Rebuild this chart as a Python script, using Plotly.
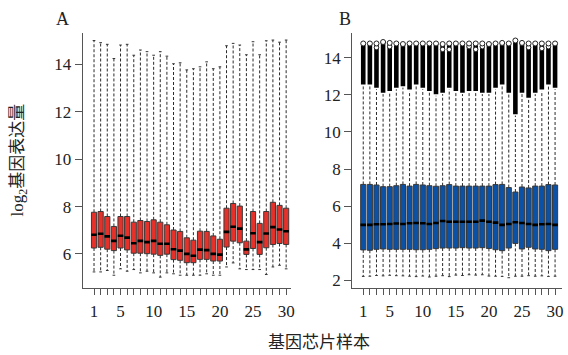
import plotly.graph_objects as go

samples = list(range(1, 31))
x_tick_vals = [1, 5, 10, 15, 20, 25, 30]
x_tick_text = ["1", "5", "10", "15", "20", "25", "30"]
a_y_ticks = [6, 8, 10, 12, 14]
b_y_ticks = [2, 4, 6, 8, 10, 12, 14]

# Panel A (red)
a_q3 = [7.76, 7.79, 7.58, 7.16, 7.58, 7.58, 7.34, 7.41, 7.37, 7.44, 7.34, 7.23, 7.01, 6.95, 6.68,
        6.58, 6.96, 6.95, 6.76, 6.62, 7.93, 8.13, 8.02, 6.54, 7.79, 7.29, 7.79, 8.18, 8.05, 7.93]
a_med = [6.81, 6.85, 6.74, 6.55, 6.77, 6.69, 6.45, 6.55, 6.50, 6.55, 6.43, 6.43, 6.20, 6.14, 6.00,
         5.92, 6.18, 6.16, 6.00, 5.97, 6.93, 7.15, 7.07, 6.19, 6.87, 6.50, 6.86, 7.13, 7.03, 6.96]
a_q1 = [6.25, 6.28, 6.20, 6.14, 6.25, 6.17, 6.03, 6.03, 6.01, 5.99, 5.94, 5.99, 5.76, 5.73, 5.63,
        5.63, 5.77, 5.77, 5.70, 5.70, 6.29, 6.54, 6.47, 5.98, 6.23, 5.98, 6.26, 6.40, 6.44, 6.40]
a_lo = [5.24, 5.24, 5.30, 5.10, 5.37, 5.27, 5.34, 5.20, 5.27, 5.20, 5.02, 5.20, 5.16, 5.10, 5.10,
        5.10, 5.10, 5.16, 5.10, 5.10, 5.45, 5.62, 5.37, 5.34, 5.34, 5.34, 5.13, 5.45, 5.52, 5.37]
a_hi = [15.01, 14.92, 14.85, 14.25, 14.82, 14.85, 14.39, 14.61, 14.54, 14.39, 14.54, 14.35, 14.03, 14.07, 13.77,
        13.82, 13.90, 14.11, 13.82, 13.90, 14.79, 14.89, 14.82, 14.41, 14.96, 14.41, 15.00, 15.03, 14.94, 15.03]

# Panel B (blue)
b_q3 = [7.17, 7.17, 7.14, 7.05, 7.05, 7.10, 7.17, 7.08, 7.17, 7.14, 7.10, 7.07, 7.10, 7.16, 7.08,
        7.08, 7.08, 7.08, 7.08, 7.08, 7.16, 7.17, 7.00, 6.76, 7.03, 6.98, 7.08, 7.08, 7.16, 7.14]
b_med = [4.99, 4.99, 5.02, 5.02, 5.04, 5.06, 5.04, 5.08, 5.09, 5.08, 5.04, 5.09, 5.20, 5.16, 5.16,
         5.16, 5.16, 5.16, 5.22, 5.16, 5.11, 4.99, 5.04, 5.13, 5.09, 5.04, 4.99, 5.02, 5.04, 4.99]
b_q1 = [3.64, 3.62, 3.67, 3.69, 3.67, 3.67, 3.67, 3.67, 3.65, 3.65, 3.67, 3.71, 3.74, 3.74, 3.74,
        3.76, 3.74, 3.74, 3.76, 3.72, 3.65, 3.60, 3.74, 3.99, 3.69, 3.78, 3.69, 3.67, 3.60, 3.67]
b_lo = [2.21, 2.22, 2.26, 2.24, 2.27, 2.25, 2.24, 2.22, 2.20, 2.23, 2.18, 2.22, 2.25, 2.20, 2.28,
        2.26, 2.30, 2.28, 2.30, 2.23, 2.22, 2.21, 2.14, 2.22, 2.22, 2.25, 2.22, 2.24, 2.21, 2.22]
b_hi = [12.48, 12.48, 12.30, 12.04, 12.13, 12.30, 12.39, 12.21, 12.48, 12.30, 12.13, 11.95, 12.04, 12.30, 12.13,
        12.04, 12.13, 12.13, 12.04, 12.04, 12.30, 12.48, 12.04, 10.88, 12.04, 11.77, 12.04, 12.21, 12.48, 12.30]
b_out_max = [14.77, 14.77, 14.77, 14.85, 14.80, 14.77, 14.74, 14.77, 14.77, 14.77, 14.77, 14.77, 14.74, 14.77, 14.77,
             14.77, 14.77, 14.77, 14.77, 14.74, 14.77, 14.80, 14.77, 14.93, 14.80, 14.77, 14.77, 14.77, 14.77, 14.77]
b_out2_x = [3, 5, 13, 14, 17, 18, 19, 26, 28, 29]
b_out2_y = [14.55, 14.60, 14.45, 14.45, 14.60, 14.45, 14.60, 14.55, 14.50, 14.60]

SERIF = "Liberation Serif, Noto Sans CJK SC, serif"
BOX_W = 0.78
CAP_W = 0.2
MED_W = 0.42

fig = go.Figure()


def add_panel(xa, ya, q1, med, q3, lo, hi, fill, cap_top=True):
    # dashed whiskers
    wx, wy = [], []
    for i, x in enumerate(samples):
        wx += [x, x, None, x, x, None]
        wy += [q3[i], hi[i], None, q1[i], lo[i], None]
    fig.add_trace(go.Scatter(x=wx, y=wy, mode="lines", xaxis=xa, yaxis=ya,
                             line=dict(color="#2a2a2a", width=1, dash="3px,2px"),
                             hoverinfo="skip", showlegend=False))
    # staples
    cx, cy = [], []
    for i, x in enumerate(samples):
        cx += [x - CAP_W, x + CAP_W, None]
        cy += [lo[i], lo[i], None]
        if cap_top:
            cx += [x - CAP_W, x + CAP_W, None]
            cy += [hi[i], hi[i], None]
    fig.add_trace(go.Scatter(x=cx, y=cy, mode="lines", xaxis=xa, yaxis=ya,
                             line=dict(color="#333", width=1),
                             hoverinfo="skip", showlegend=False))
    # boxes
    fig.add_trace(go.Box(x=samples, q1=q1, median=med, q3=q3, lowerfence=q1, upperfence=q3,
                         xaxis=xa, yaxis=ya, width=BOX_W, whiskerwidth=0,
                         fillcolor=fill, line=dict(color="#3a3a3a", width=1),
                         boxpoints=False, hoverinfo="skip", showlegend=False))
    # thick medians
    mx, my = [], []
    for i, x in enumerate(samples):
        mx += [x - MED_W, x + MED_W, None]
        my += [med[i], med[i], None]
    fig.add_trace(go.Scatter(x=mx, y=my, mode="lines", xaxis=xa, yaxis=ya,
                             line=dict(color="#000", width=2.6),
                             hoverinfo="skip", showlegend=False))


add_panel("x", "y", a_q1, a_med, a_q3, a_lo, a_hi, "#e6302a")
add_panel("x2", "y2", b_q1, b_med, b_q3, b_lo, b_hi, "#0b52a6", cap_top=False)

# outlier band in panel B
ox, oy = [], []
for i, x in enumerate(samples):
    ox += [x, x, None]
    oy += [b_hi[i] + 0.08, b_out_max[i], None]
fig.add_trace(go.Scatter(x=ox, y=oy, mode="lines", xaxis="x2", yaxis="y2",
                         line=dict(color="#000", width=4.6),
                         hoverinfo="skip", showlegend=False))
fig.add_trace(go.Scatter(x=b_out2_x, y=b_out2_y, mode="markers", xaxis="x2", yaxis="y2",
                         marker=dict(symbol="circle", size=4.5, color="white",
                                     line=dict(color="#222", width=1)),
                         hoverinfo="skip", showlegend=False))
fig.add_trace(go.Scatter(x=samples, y=b_out_max, mode="markers", xaxis="x2", yaxis="y2",
                         marker=dict(symbol="circle", size=5, color="white",
                                     line=dict(color="#222", width=1)),
                         hoverinfo="skip", showlegend=False))

W, H = 568, 355
ydom = [1 - 290 / H, 1 - 33 / H]
axis_common = dict(showline=True, linecolor="#555", linewidth=1, showgrid=False, zeroline=False,
                   ticks="outside", tickcolor="#555", tickwidth=1, ticklabeloverflow="allow",
                   tickfont=dict(family=SERIF, size=17, color="#222"))

xa_common = dict(tickvals=x_tick_vals, ticktext=x_tick_text, ticklen=6, ticklabelstandoff=2,
                 minor=dict(tickvals=samples, ticklen=6, tickcolor="#555", ticks="outside", showgrid=False))

fig.update_layout(
    width=W, height=H, margin=dict(l=0, r=0, t=0, b=0),
    paper_bgcolor="white", plot_bgcolor="white", showlegend=False,
    xaxis=dict(domain=[83 / W, 293 / W], range=[-0.73, 30.8], anchor="y", **xa_common, **axis_common),
    yaxis=dict(domain=ydom, range=[4.58, 15.34], anchor="x",
               tickvals=a_y_ticks, ticklen=7, **axis_common),
    xaxis2=dict(domain=[354 / W, 565 / W], range=[-0.68, 31.05], anchor="y2", **xa_common, **axis_common),
    yaxis2=dict(domain=ydom, range=[1.61, 15.35], anchor="x2",
                tickvals=b_y_ticks, ticklen=7, **axis_common),
    annotations=[
        dict(text="A", x=63 / W, y=1 - 19 / H, xref="paper", yref="paper", showarrow=False,
             xanchor="center", yanchor="middle", font=dict(family=SERIF, size=18, color="#222")),
        dict(text="B", x=347 / W, y=1 - 19 / H, xref="paper", yref="paper", showarrow=False,
             xanchor="center", yanchor="middle", font=dict(family=SERIF, size=18, color="#222")),
        dict(text="log<sub>2</sub>基因表达量", x=19 / W, y=1 - 161 / H, xref="paper", yref="paper",
             xanchor="center", yanchor="middle",
             showarrow=False, textangle=-90, font=dict(family=SERIF, size=17, color="#222")),
        dict(text="基因芯片样本", x=321 / W, y=1 - 345 / H, xref="paper", yref="paper",
             xanchor="center", yanchor="middle",
             showarrow=False, font=dict(family=SERIF, size=17, color="#222")),
    ],
)

fig.write_html("out.html", config={"displayModeBar": False},
               post_script="document.body.style.margin='0px';")
